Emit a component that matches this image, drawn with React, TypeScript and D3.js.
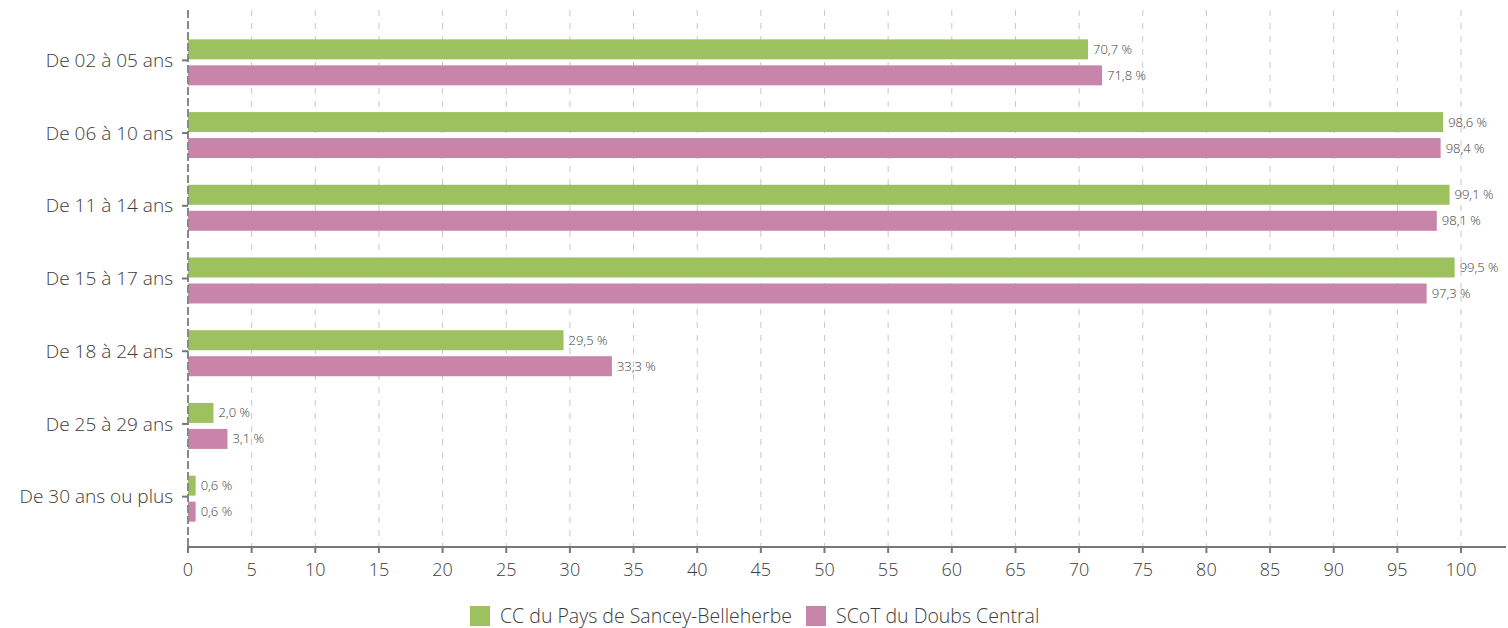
import React, { useRef, useEffect } from "react";
import * as d3 from "d3";

const categories = [
  "De 02 à 05 ans",
  "De 06 à 10 ans",
  "De 11 à 14 ans",
  "De 15 à 17 ans",
  "De 18 à 24 ans",
  "De 25 à 29 ans",
  "De 30 ans ou plus",
];
const sanceyValues = [70.7, 98.6, 99.1, 99.5, 29.5, 2.0, 0.6];
const scotValues = [71.8, 98.4, 98.1, 97.3, 33.3, 3.1, 0.6];
const seriesNames = ["CC du Pays de Sancey-Belleherbe", "SCoT du Doubs Central"];
const seriesColors = ["#9ec160", "#c984a9"];
const xTicks = d3.range(0, 101, 5);

const FONT = "'Open Sans', sans-serif";
const TEXT = "#3c3c3c";

function App() {
  const canvas = useRef<SVGSVGElement | null>(null);

  function drawChart() {
    const width = 1508;
    const height = 628;
    const svg = d3.select(canvas.current).attr("width", width).attr("height", height);
    svg.selectAll("*").remove();

    const x = d3.scaleLinear().domain([0, 100]).range([188, 1461]);
    const y = d3.scaleBand().domain(categories).range([24, 533]);
    const sub = d3.scaleBand().domain(["0", "1"]).range([-21, 25]).paddingInner(0.2308);
    const plotTop = 10;
    const axisY = 547;

    // grid
    svg.append("g")
      .selectAll("line")
      .data(xTicks.filter((d) => d > 0))
      .enter()
      .append("line")
      .attr("x1", (d) => x(d))
      .attr("x2", (d) => x(d))
      .attr("y1", plotTop)
      .attr("y2", axisY)
      .attr("stroke", "#c8c8c8")
      .attr("stroke-width", 1)
      .attr("stroke-dasharray", "6,7");

    const rows = categories.map((c, i) => ({ cat: c, vals: [sanceyValues[i], scotValues[i]] }));

    const g = svg.append("g");
    rows.forEach((row) => {
      row.vals.forEach((v, s) => {
        const yy = (y(row.cat) as number) + y.bandwidth() / 2 + (sub(String(s)) as number);
        g.append("rect")
          .attr("x", x(0))
          .attr("y", yy)
          .attr("width", x(v) - x(0))
          .attr("height", sub.bandwidth())
          .attr("fill", seriesColors[s]);
        g.append("text")
          .attr("x", x(v) + 5)
          .attr("y", yy + sub.bandwidth() / 2)
          .attr("dy", "0.35em")
          .attr("font-family", FONT)
          .attr("font-size", 13)
          .attr("font-weight", 300)
          .attr("fill", TEXT)
          .text(v.toFixed(1).replace(".", ",") + " %");
      });
    });

    // y axis line
    svg.append("line")
      .attr("x1", x(0)).attr("x2", x(0))
      .attr("y1", plotTop).attr("y2", axisY)
      .attr("stroke", "#888").attr("stroke-width", 2).attr("stroke-dasharray", "8,3");

    // y ticks and labels
    const yl = svg.append("g");
    categories.forEach((c) => {
      const cy = (y(c) as number) + y.bandwidth() / 2;
      yl.append("line")
        .attr("x1", x(0) - 6).attr("x2", x(0))
        .attr("y1", cy).attr("y2", cy)
        .attr("stroke", "#777").attr("stroke-width", 2);
      yl.append("text")
        .attr("x", x(0) - 15)
        .attr("y", cy)
        .attr("dy", "0.35em")
        .attr("text-anchor", "end")
        .attr("font-family", FONT)
        .attr("font-size", 19)
        .attr("font-weight", 300)
        .attr("fill", TEXT)
        .text(c);
    });

    // x axis
    svg.append("line")
      .attr("x1", x(0) - 1).attr("x2", 1506)
      .attr("y1", axisY).attr("y2", axisY)
      .attr("stroke", "#777").attr("stroke-width", 2);
    const xa = svg.append("g");
    xTicks.forEach((t) => {
      xa.append("line")
        .attr("x1", x(t)).attr("x2", x(t))
        .attr("y1", axisY).attr("y2", axisY + 6)
        .attr("stroke", "#777").attr("stroke-width", 2);
      xa.append("text")
        .attr("x", x(t))
        .attr("y", axisY + 29)
        .attr("text-anchor", "middle")
        .attr("font-family", FONT)
        .attr("font-size", 18)
        .attr("font-weight", 300)
        .attr("fill", TEXT)
        .text(String(t));
    });

    // legend
    const leg = svg.append("g");
    const legX = [470, 806];
    seriesNames.forEach((n, i) => {
      leg.append("rect")
        .attr("x", legX[i]).attr("y", 606)
        .attr("width", 20).attr("height", 20)
        .attr("fill", seriesColors[i]);
      leg.append("text")
        .attr("x", legX[i] + 30)
        .attr("y", 616)
        .attr("dy", "0.35em")
        .attr("font-family", FONT)
        .attr("font-size", 19.5)
        .attr("font-weight", 300)
        .attr("fill", TEXT)
        .text(n);
    });
  }

  useEffect(() => {
    drawChart();
  }, []);

  return (
    <div style={{ position: "absolute", left: 0, top: 0 }}>
      <svg ref={canvas} style={{ display: "block" }}></svg>
    </div>
  );
}

export default App;
